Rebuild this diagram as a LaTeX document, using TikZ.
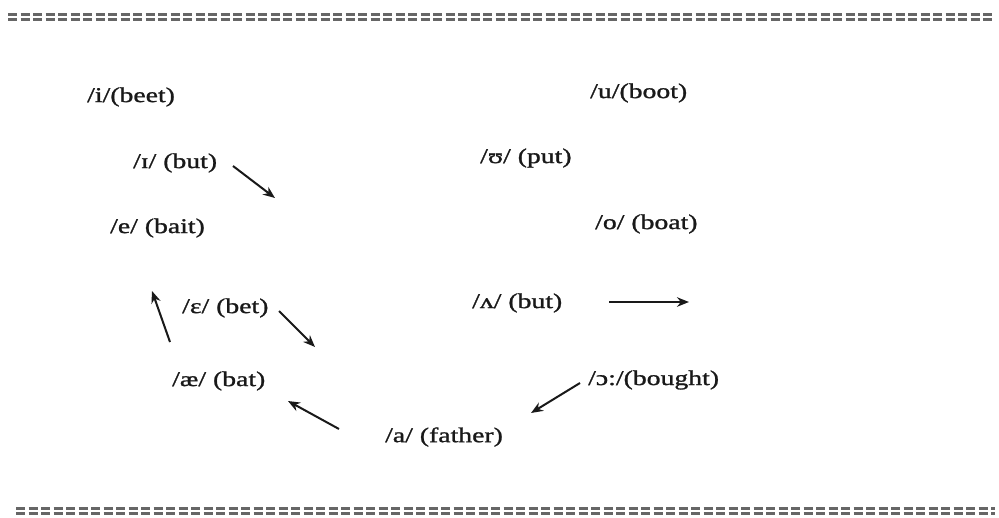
\documentclass[tikz,border=0pt]{standalone}
\usepackage{fontspec}
\setmainfont[FakeStretch=1.32,FakeBold=1.2]{Liberation Serif}
\usetikzlibrary{arrows.meta}
\definecolor{ink}{gray}{0.1}
\definecolor{rule}{gray}{0.4}
\begin{document}
\begin{tikzpicture}[x=1pt,y=-1pt,
  lab/.style={anchor=west,inner sep=0pt,text=ink,font=\fontsize{21}{24}\selectfont},
  arr/.style={draw=ink,line width=2pt,-{Stealth[length=12pt,width=9.5pt]}},
  border/.style={draw=rule,line width=2.2pt,dash pattern=on 9pt off 3.5pt}]
\useasboundingbox (0,0) rectangle (999,517);
\fill[white] (0,0) rectangle (999,517);
% dashed double borders
\draw[border] (8,14.5) -- (992,14.5);
\draw[border] (8,19.5) -- (992,19.5);
\draw[border] (16,508.5) -- (995,508.5);
\draw[border] (16,513.5) -- (995,513.5);
% labels
\node[lab] (i) at (87,97) {/i/(beet)};
\node[lab] (I) at (133,163) {/ɪ/ (but)};
\node[lab] (e) at (110,228) {/e/ (bait)};
\node[lab] (E) at (182,308) {/ɛ/ (bet)};
\node[lab] (ae) at (172,381) {/æ/ (bat)};
\node[lab] (a) at (385,437) {/a/ (father)};
\node[lab] (u) at (590,93) {/u/(boot)};
\node[lab] (U) at (480,158) {/ʊ/ (put)};
\node[lab] (o) at (595,224) {/o/ (boat)};
\node[lab] (V) at (472,303) {/ʌ/ (but)};
\node[lab] (O) at (588,380) {/ɔ:/(bought)};
% arrow end points
\coordinate (I1) at (233,166);
\coordinate (I2) at (275,198);
\coordinate (up1) at (170,342);
\coordinate (up2) at (152,291);
\coordinate (E1) at (279,311);
\coordinate (E2) at (315,347);
\coordinate (a1) at (339,429);
\coordinate (a2) at (288,401);
\coordinate (V1) at (609,302);
\coordinate (V2) at (689,302);
\coordinate (O1) at (580,383);
\coordinate (O2) at (531,413);
\draw[arr] (I1) -- (I2);
\draw[arr] (up1) -- (up2);
\draw[arr] (E1) -- (E2);
\draw[arr] (a1) -- (a2);
\draw[arr] (V1) -- (V2);
\draw[arr] (O1) -- (O2);
\end{tikzpicture}
\end{document}
